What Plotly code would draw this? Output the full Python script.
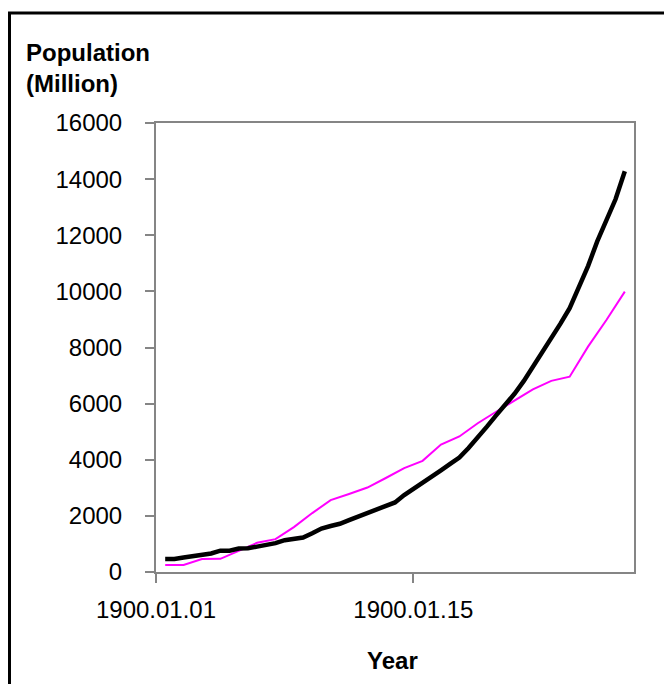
import plotly.graph_objects as go

# Category positions (26 categories, Excel date-serial labels)
categories = list(range(1, 27))
tick_positions = [0.5, 14.5]
tick_labels = ["1900.01.01", "1900.01.15"]

# Magenta series: one value per category
magenta_x = categories
magenta_values = [250, 250, 460, 470, 750, 1040, 1170, 1600, 2100, 2560,
                  2780, 3010, 3350, 3700, 3960, 4540, 4830, 5300, 5710, 6100,
                  6510, 6810, 6960, 8030, 8980, 9990]

# Black series: two values per category (half-category steps)
black_x = [1 + 0.5 * k for k in range(51)]
black_values = [463, 463, 520, 570, 590, 660, 759, 759, 835, 845,
                905, 950, 1030, 1135, 1200, 1230, 1380, 1550, 1640, 1720,
                1850, 1980, 2100, 2220, 2380, 2480, 2740, 2950, 3160, 3400,
                3620, 3850, 4080, 4420, 4780, 5180, 5580, 5950, 6350, 6800,
                7300, 7800, 8300, 8850, 9400, 10130, 10900, 11780, 12520, 13290,
                14280]

y_ticks = list(range(0, 16001, 2000))
y_tick_labels = [str(v) for v in y_ticks]

FONT = "Liberation Sans, Arial, sans-serif"
GRAY = "#858585"

fig = go.Figure()
fig.add_trace(go.Scatter(x=magenta_x, y=magenta_values, mode="lines",
                         line=dict(color="#FF00FF", width=2), showlegend=False))
fig.add_trace(go.Scatter(x=black_x, y=black_values, mode="lines",
                         line=dict(color="#000000", width=4.5), showlegend=False))

# page has an 8px body margin; figure coords = page coords - 8
OFF = 8
W, H = 664, 676
L, T = 156 - OFF, 123 - OFF
R = W - (634 - OFF)
B = H - (572 - OFF)
pw, ph = W - L - R, H - T - B

def px(xp):
    return (xp - OFF - L) / pw

def py(yp):
    return (H - B - (yp - OFF)) / ph

fig.update_layout(
    width=W, height=H,
    margin=dict(l=L, r=R, t=T, b=B, pad=0),
    paper_bgcolor="white", plot_bgcolor="white",
    font=dict(family=FONT, size=24, color="black"),
    xaxis=dict(range=[0.5, 26.5], tickmode="array", tickvals=tick_positions,
               ticktext=tick_labels, ticks="outside", ticklen=9, tickwidth=2,
               tickcolor=GRAY, showline=True, linecolor=GRAY, linewidth=2,
               mirror=True, showgrid=False, zeroline=False,
               ticklabelstandoff=6,
               tickfont=dict(family=FONT, size=24, color="black")),
    yaxis=dict(range=[0, 16000], tickmode="array", tickvals=y_ticks,
               ticktext=y_tick_labels,
               ticks="outside", ticklen=9, tickwidth=2, tickcolor=GRAY,
               showline=True, linecolor=GRAY, linewidth=2, mirror=True,
               showgrid=False, zeroline=False, ticklabelstandoff=18,
               tickfont=dict(family=FONT, size=24, color="black")),
    annotations=[
        dict(text="<b>Population</b><br><b>(Million)</b>", xref="paper", yref="paper",
             x=px(24), y=py(37), xanchor="left", yanchor="top", align="left",
             showarrow=False, font=dict(family=FONT, size=24, color="black")),
        dict(text="<b>Year</b>", xref="paper", yref="paper",
             x=px(392), y=py(660), xanchor="center", yanchor="middle",
             showarrow=False, font=dict(family=FONT, size=24, color="black")),
    ],
    shapes=[
        dict(type="line", xref="paper", yref="paper", x0=px(8), y0=py(13),
             x1=px(700), y1=py(13), line=dict(color="black", width=3)),
        dict(type="line", xref="paper", yref="paper", x0=px(9.5), y0=py(12),
             x1=px(9.5), y1=py(700), line=dict(color="black", width=3)),
    ],
)

fig.write_html("out.html")
